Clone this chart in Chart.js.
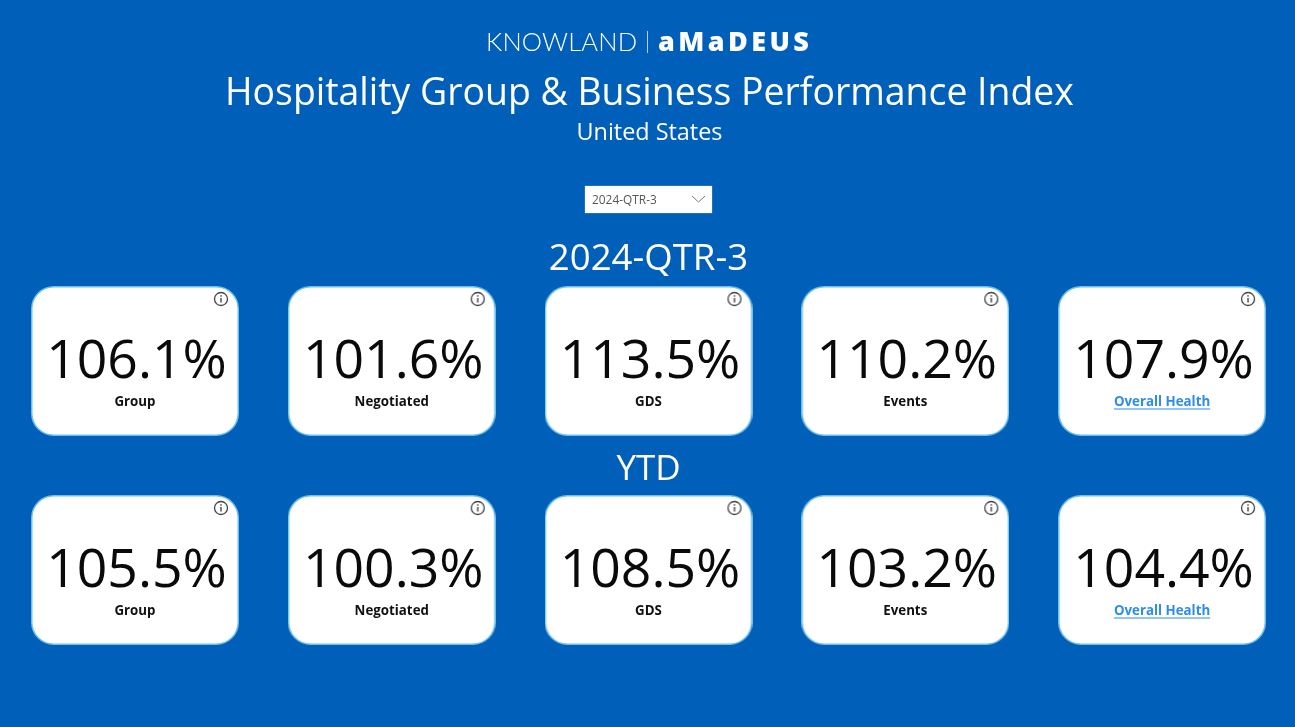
<!DOCTYPE html>
<html><head><meta charset="utf-8"><title>Hospitality Group & Business Performance Index</title>
<script src="https://cdn.jsdelivr.net/npm/chart.js@4"></script>
<style>
html,body{margin:0;padding:0;background:#005fb8;width:1295px;height:727px;overflow:hidden}
#wrap{position:relative;width:1295px;height:727px}
canvas#c{position:absolute;left:0;top:0}
.t{position:absolute;left:0;width:1295px;text-align:center;color:#fff;font-family:"Open Sans",sans-serif;white-space:nowrap;line-height:1}
#logoA{position:absolute;left:486px;top:29px;font:300 25.5px/1 Lato,sans-serif;color:#fff;letter-spacing:.2px;white-space:nowrap}
#sep{position:absolute;left:646.5px;top:31px;width:1.5px;height:22px;background:#b7cfea}
#logoB{position:absolute;left:658px;top:27px;font:800 27px/1 "Open Sans",sans-serif;color:#fff;letter-spacing:3.4px;white-space:nowrap}
#dd{position:absolute;left:585px;top:186px;width:127px;height:27px;background:#fff;box-shadow:0 0 1px #bcd}
#dd span{position:absolute;left:7px;top:7px;font:11.9px/13px "Open Sans",sans-serif;color:#555}
#dd svg{position:absolute;left:106px;top:9px}
</style></head><body><div id="wrap">
<canvas id="c" width="1295" height="727"></canvas>
<div id="logoA">KNOWLAND</div><div id="sep"></div><div id="logoB">aMaDEUS</div>
<div class="t" style="left:2px;top:72px;font-size:37.4px;">Hospitality Group &amp; Business Performance Index</div>
<div class="t" style="left:2px;top:120px;font-size:23.4px;">United States</div>
<div id="dd"><span>2024-QTR-3</span><svg width="15" height="8"><path d="M1 1 L7.5 7 L14 1" fill="none" stroke="#777" stroke-width="1"/></svg></div>
<div class="t" style="left:1px;top:238px;font-size:36.6px;">2024-QTR-3</div>
<div class="t" style="left:1px;top:449px;font-size:35px;">YTD</div>
</div>
<script>
const categories = ["Group","Negotiated","GDS","Events","Overall Health"];
const periods = ["2024-QTR-3","YTD"];
const qtrValues = [106.1,101.6,113.5,110.2,107.9];
const ytdValues = [105.5,100.3,108.5,103.2,104.4];
const FONT = '"Open Sans",sans-serif';

function makeCard(){
  const w=208,h=150,c=document.createElement('canvas');c.width=w;c.height=h;
  const g=c.getContext('2d');
  g.beginPath();g.roundRect(.75,.75,w-1.5,h-1.5,22);g.fillStyle='#fff';g.fill();
  g.lineWidth=1.5;g.strokeStyle='#6cc0ea';g.stroke();
  g.beginPath();g.arc(w-18,13,6.5,0,Math.PI*2);g.lineWidth=1.3;g.strokeStyle='#444';g.stroke();
  g.fillStyle='#444';g.fillRect(w-18.7,12,1.4,4.5);g.fillRect(w-18.7,9.2,1.4,1.5);
  return c;
}
const card=makeCard();
const toPoints=(vals,p)=>vals.map((v,i)=>({x:categories[i],y:p,v}));

const cardText={id:'cardText',afterDatasetsDraw(ch){
  const g=ch.ctx;g.save();g.textAlign='center';
  ch.data.datasets.forEach((ds,di)=>{
    ch.getDatasetMeta(di).data.forEach((el,i)=>{
      const d=ds.data[i];
      g.fillStyle='#0a0a0a';g.textBaseline='alphabetic';g.font='53.5px '+FONT;
      g.fillText(d.v.toFixed(1)+'%',el.x+1.5,el.y+17);
      const link=d.x==='Overall Health';
      g.font='700 13.3px '+FONT;g.textBaseline='middle';
      g.fillStyle=link?'#2d8cf0':'#111';
      g.fillText(d.x,el.x,el.y+41);
      if(link){const m=g.measureText(d.x).width;g.fillStyle='#2d8cf0';g.fillRect(el.x-m/2,el.y+47.5,m,1);}
    });
  });
  g.restore();
}};

new Chart(document.getElementById('c'),{
  type:'scatter',
  data:{datasets:[
    {label:periods[0],data:toPoints(qtrValues,periods[0]),pointStyle:card,pointRadius:75,backgroundColor:'#fff',clip:false},
    {label:periods[1],data:toPoints(ytdValues,periods[1]),pointStyle:card,pointRadius:75,backgroundColor:'#fff',clip:false}
  ]},
  options:{
    responsive:false,animation:false,devicePixelRatio:1,
    layout:{autoPadding:false,padding:{left:6.6,right:4.6,top:256.5,bottom:52.5}},
    plugins:{legend:{display:false},tooltip:{enabled:false},title:{display:false}},
    scales:{
      x:{type:'category',labels:categories,offset:true,display:false},
      y:{type:'category',labels:periods,offset:true,display:false}
    }
  },
  plugins:[cardText]
});
</script></body></html>
